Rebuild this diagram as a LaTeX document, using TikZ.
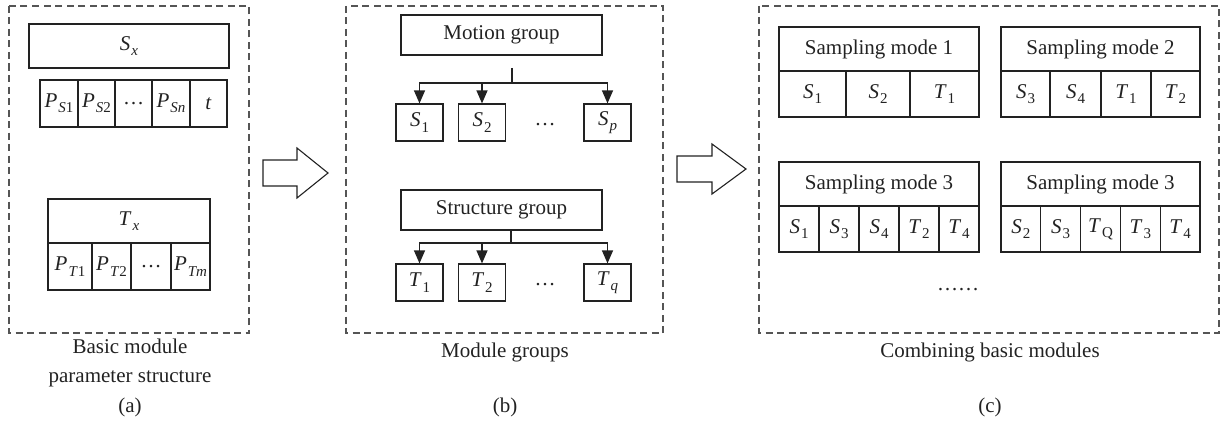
\documentclass[tikz,border=0pt]{standalone}
\usepackage{fontspec}
\setmainfont{Liberation Serif}
\usetikzlibrary{arrows.meta}
\definecolor{ink}{HTML}{222222}
\definecolor{frame}{HTML}{555555}
% italic symbol with a subscript, set in the text font
\newcommand\mvar[2]{\textit{#1}\kern1pt\raisebox{-0.25em}{\fontsize{15}{15}\selectfont #2}}
\tikzset{
  box/.style={draw=ink, line width=1.2pt, inner sep=0pt, text=ink,
              font=\fontsize{21}{24}\selectfont},
  frm/.style={draw=frame, line width=1.1pt, dash pattern=on 7pt off 4.5pt},
  caption/.style={text=ink, inner sep=0pt, align=center,
              font=\fontsize{21}{29}\selectfont},
  link/.style={draw=ink, line width=1.2pt},
  linkarrow/.style={link, -{Triangle[width=11pt,length=13pt]}},
  bigarrow/.style={draw=ink, line width=1.1pt, fill=white, line join=miter},
}
\begin{document}
\begin{tikzpicture}[x=1pt, y=-1pt]
\useasboundingbox (0,0) rectangle (1220,428);

% ---------- (a) basic module parameter structure ----------
\draw[frm] (9,6) rectangle (249,333);
\node[box, minimum width=200pt, minimum height=44pt] (sx) at (129,46) {\mvar{S}{\textit{x}}};
\node[box, minimum width=38pt, minimum height=47pt] (ps1) at (59,103.5) {\mvar{P}{\textit{S}1}};
\node[box, minimum width=37pt, minimum height=47pt] (ps2) at (96.5,103.5) {\mvar{P}{\textit{S}2}};
\node[box, minimum width=37pt, minimum height=47pt] (psd) at (133.5,103.5) {\ldots};
\node[box, minimum width=38pt, minimum height=47pt] (psn) at (171,103.5) {\mvar{P}{\textit{Sn}}};
\node[box, minimum width=37pt, minimum height=47pt] (pt) at (208.5,103.5) {\textit{t}};

\node[box, minimum width=162pt, minimum height=44pt] (tx) at (129,221) {\mvar{T}{\textit{x}}};
\node[box, minimum width=44pt, minimum height=47pt] (pt1) at (70,266.5) {\mvar{P}{\textit{T}1}};
\node[box, minimum width=39pt, minimum height=47pt] (pt2) at (111.5,266.5) {\mvar{P}{\textit{T}2}};
\node[box, minimum width=40pt, minimum height=47pt] (ptd) at (151,266.5) {\ldots};
\node[box, minimum width=39pt, minimum height=47pt] (ptm) at (190.5,266.5) {\mvar{P}{\textit{Tm}}};

\node[caption] (capa) at (130,362.5) {Basic module\\parameter structure};
\node[caption] (laba) at (130,407) {(a)};

% hollow arrow (a) -> (b)
\draw[bigarrow] (263,160) -- (297,160) -- (297,148) -- (328,173)
  -- (297,198) -- (297,186) -- (263,186) -- cycle;

% ---------- (b) module groups ----------
\draw[frm] (346,6) rectangle (663,333);
\node[box, minimum width=201pt, minimum height=40pt] (mg) at (501.5,35) {Motion group};
\node[box, minimum width=47pt, minimum height=37pt] (s1) at (419.5,122.5) {\mvar{S}{1}};
\node[box, minimum width=47pt, minimum height=37pt] (s2) at (482,122.5) {\mvar{S}{2}};
\node[box, minimum width=47pt, minimum height=37pt] (sp) at (607.5,122.5) {\mvar{S}{\textit{p}}};
\node[text=ink, font=\fontsize{21}{24}\selectfont] (sdots) at (545,125) {\ldots};
\coordinate (mtop) at (512,68);
\coordinate (mj) at (512,83);
\draw[link] (mtop) -- (mj);
\draw[linkarrow] (mj) -| (s1.north);
\draw[linkarrow] (mj) -| (s2.north);
\draw[linkarrow] (mj) -| (sp.north);

\node[box, minimum width=201pt, minimum height=40pt] (sg) at (501.5,210) {Structure group};
\node[box, minimum width=47pt, minimum height=37pt] (t1) at (419.5,282.5) {\mvar{T}{1}};
\node[box, minimum width=47pt, minimum height=37pt] (t2) at (482,282.5) {\mvar{T}{2}};
\node[box, minimum width=47pt, minimum height=37pt] (tq) at (607.5,282.5) {\mvar{T}{\textit{q}}};
\node[text=ink, font=\fontsize{21}{24}\selectfont] (tdots) at (545,285) {\ldots};
\coordinate (sj) at (511,243);
\draw[link] (sg.south -| sj) -- (sj);
\draw[linkarrow] (sj) -| (t1.north);
\draw[linkarrow] (sj) -| (t2.north);
\draw[linkarrow] (sj) -| (tq.north);

\node[caption] (capb) at (505,352) {Module groups};
\node[caption] (labb) at (505,407) {(b)};

% hollow arrow (b) -> (c)
\draw[bigarrow] (677,156) -- (712,156) -- (712,144) -- (746,169)
  -- (712,194) -- (712,182) -- (677,182) -- cycle;

% ---------- (c) combining basic modules ----------
\draw[frm] (759,6) rectangle (1219,333);

% sampling mode 1
\node[box, minimum width=200pt, minimum height=44pt] (m1) at (879,49) {Sampling mode 1};
\node[box, minimum width=67pt, minimum height=46pt] (m1a) at (812.5,94) {\mvar{S}{1}};
\node[box, minimum width=64pt, minimum height=46pt] (m1b) at (878,94) {\mvar{S}{2}};
\node[box, minimum width=69pt, minimum height=46pt] (m1c) at (944.5,94) {\mvar{T}{1}};

% sampling mode 2
\node[box, minimum width=199pt, minimum height=44pt] (m2) at (1100.5,49) {Sampling mode 2};
\node[box, minimum width=49pt, minimum height=46pt] (m2a) at (1025.5,94) {\mvar{S}{3}};
\node[box, minimum width=51pt, minimum height=46pt] (m2b) at (1075.5,94) {\mvar{S}{4}};
\node[box, minimum width=50pt, minimum height=46pt] (m2c) at (1126,94) {\mvar{T}{1}};
\node[box, minimum width=49pt, minimum height=46pt] (m2d) at (1175.5,94) {\mvar{T}{2}};

% sampling mode 3 (left)
\node[box, minimum width=200pt, minimum height=44pt] (m3) at (879,184) {Sampling mode 3};
\node[box, minimum width=40pt, minimum height=46pt] (m3a) at (799,229) {\mvar{S}{1}};
\node[box, minimum width=40pt, minimum height=46pt] (m3b) at (839,229) {\mvar{S}{3}};
\node[box, minimum width=40pt, minimum height=46pt] (m3c) at (879,229) {\mvar{S}{4}};
\node[box, minimum width=40pt, minimum height=46pt] (m3d) at (919,229) {\mvar{T}{2}};
\node[box, minimum width=40pt, minimum height=46pt] (m3e) at (959,229) {\mvar{T}{4}};

% sampling mode 3 (right)
\node[box, minimum width=199pt, minimum height=44pt] (m4) at (1100.5,184) {Sampling mode 3};
\node[box, minimum width=39.8pt, minimum height=46pt] (m4a) at (1020.9,229) {\mvar{S}{2}};
\node[box, minimum width=39.8pt, minimum height=46pt] (m4b) at (1060.7,229) {\mvar{S}{3}};
\node[box, minimum width=39.8pt, minimum height=46pt] (m4c) at (1100.5,229) {\mvar{T}{Q}};
\node[box, minimum width=39.8pt, minimum height=46pt] (m4d) at (1140.3,229) {\mvar{T}{3}};
\node[box, minimum width=39.8pt, minimum height=46pt] (m4e) at (1180.1,229) {\mvar{T}{4}};

\node[text=ink, font=\fontsize{21}{24}\selectfont] (cdots) at (958,290) {\ldots\ldots};

\node[caption] (capc) at (990,352) {Combining basic modules};
\node[caption] (labc) at (990,407) {(c)};
\end{tikzpicture}
\end{document}
